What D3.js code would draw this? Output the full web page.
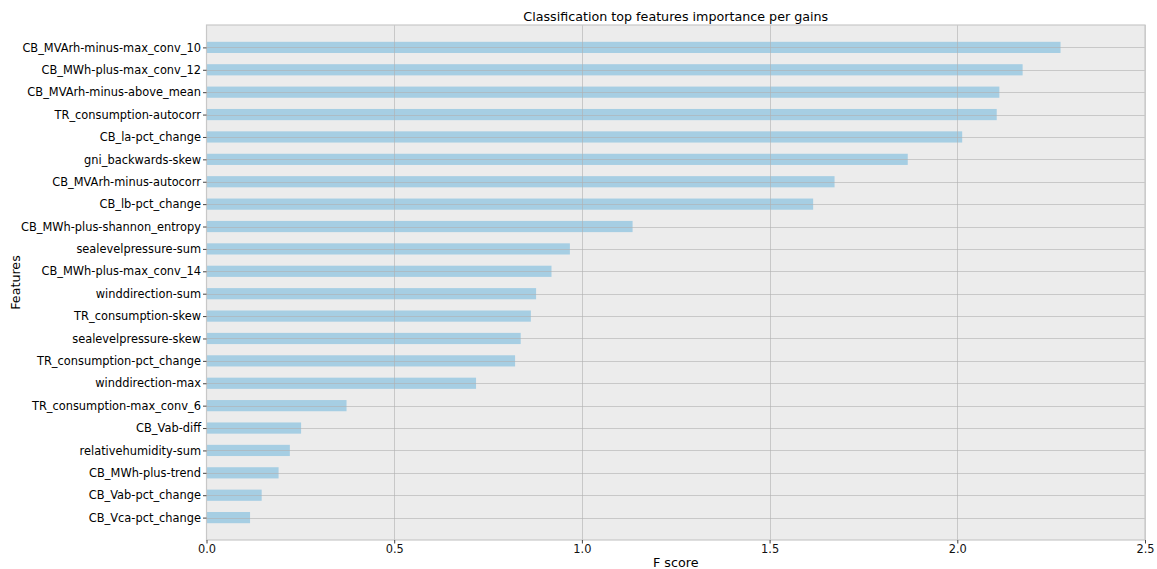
<!DOCTYPE html>
<html>
<head>
<meta charset="utf-8">
<script src="https://cdn.jsdelivr.net/npm/d3@7"></script>
<style>
  html, body { margin: 0; padding: 0; background: #fff; }
  svg { display: block; font-family: "DejaVu Sans", sans-serif; }
</style>
</head>
<body>
<svg id="chart" width="1157" height="569"></svg>
<script>
// Feature names, top to bottom
const features = [
  "CB_MVArh-minus-max_conv_10",
  "CB_MWh-plus-max_conv_12",
  "CB_MVArh-minus-above_mean",
  "TR_consumption-autocorr",
  "CB_la-pct_change",
  "gni_backwards-skew",
  "CB_MVArh-minus-autocorr",
  "CB_lb-pct_change",
  "CB_MWh-plus-shannon_entropy",
  "sealevelpressure-sum",
  "CB_MWh-plus-max_conv_14",
  "winddirection-sum",
  "TR_consumption-skew",
  "sealevelpressure-skew",
  "TR_consumption-pct_change",
  "winddirection-max",
  "TR_consumption-max_conv_6",
  "CB_Vab-diff",
  "relativehumidity-sum",
  "CB_MWh-plus-trend",
  "CB_Vab-pct_change",
  "CB_Vca-pct_change"
];

// Gain-based importance per feature
const gains = [
  2.275, 2.174, 2.112, 2.105, 2.013, 1.868, 1.673, 1.616,
  1.135, 0.968, 0.919, 0.878, 0.864, 0.837, 0.822, 0.718,
  0.373, 0.252, 0.222, 0.192, 0.147, 0.116
];

const xTicks = [0.0, 0.5, 1.0, 1.5, 2.0, 2.5];

const svg = d3.select("#chart");
const plotLeft = 206.5, plotRight = 1145, plotTop = 25, plotBottom = 540;
const tickFont = "11.4px";
const labelFont = "12.7px";

const x = d3.scaleLinear().domain([0, 2.5]).range([plotLeft, plotRight]);
// row index -> vertical position, one empty slot above and below
const y = d3.scaleLinear().domain([-1, features.length]).range([plotTop, plotBottom]);
const rowStep = y(1) - y(0);
const barH = rowStep * 0.5;

// plot background
svg.append("rect")
  .attr("x", plotLeft).attr("y", plotTop)
  .attr("width", plotRight - plotLeft).attr("height", plotBottom - plotTop)
  .attr("fill", "#ececec");

// bars
svg.append("g").selectAll("rect")
  .data(gains)
  .join("rect")
  .attr("x", x(0))
  .attr("y", (d, i) => y(i) - barH / 2)
  .attr("width", d => x(d) - x(0))
  .attr("height", barH)
  .attr("fill", "#a6cee3");

// grid lines drawn over the bars
const grid = svg.append("g")
  .attr("stroke", "#b0b0b0")
  .attr("stroke-opacity", 0.6)
  .attr("stroke-width", 1);
grid.selectAll("line.v")
  .data(xTicks.slice(1))
  .join("line")
  .attr("class", "v")
  .attr("x1", d => Math.round(x(d)) + 0.5).attr("x2", d => Math.round(x(d)) + 0.5)
  .attr("y1", plotTop).attr("y2", plotBottom);
grid.selectAll("line.h")
  .data(features)
  .join("line")
  .attr("class", "h")
  .attr("x1", plotLeft).attr("x2", plotRight)
  .attr("y1", (d, i) => Math.round(y(i)) + 0.5)
  .attr("y2", (d, i) => Math.round(y(i)) + 0.5);

// frame
svg.append("rect")
  .attr("x", plotLeft).attr("y", plotTop)
  .attr("width", plotRight - plotLeft).attr("height", plotBottom - plotTop)
  .attr("fill", "none")
  .attr("stroke", "#c8c8c8")
  .attr("stroke-width", 1.2);

// x axis
const xAxis = d3.axisBottom(x)
  .tickValues(xTicks)
  .tickFormat(d3.format(".1f"))
  .tickSize(3.5)
  .tickPadding(1.5);
const gx = svg.append("g")
  .attr("transform", `translate(0,${plotBottom})`)
  .call(xAxis);
gx.select(".domain").remove();
gx.selectAll(".tick line").attr("stroke", "#444");
gx.selectAll(".tick text")
  .attr("font-size", tickFont)
  .attr("fill", "#111")
  .attr("font-family", "DejaVu Sans, sans-serif");

// y axis
const yBand = d3.scalePoint().domain(features)
  .range([y(0), y(features.length - 1)]);
const yAxis = d3.axisLeft(yBand).tickSize(3.5).tickPadding(2);
const gy = svg.append("g")
  .attr("transform", `translate(${plotLeft},0)`)
  .call(yAxis);
gy.select(".domain").remove();
gy.selectAll(".tick line").attr("stroke", "#444");
gy.selectAll(".tick text")
  .attr("font-size", tickFont)
  .attr("fill", "#000")
  .attr("font-family", "DejaVu Sans, sans-serif");

// title and axis labels
svg.append("text")
  .attr("x", (plotLeft + plotRight) / 2).attr("y", 21)
  .attr("text-anchor", "middle")
  .attr("font-size", labelFont)
  .attr("fill", "#000")
  .text("Classification top features importance per gains");

svg.append("text")
  .attr("x", (plotLeft + plotRight) / 2).attr("y", 567)
  .attr("text-anchor", "middle")
  .attr("font-size", labelFont)
  .attr("fill", "#000")
  .text("F score");

svg.append("text")
  .attr("transform", `translate(19.5,${(plotTop + plotBottom) / 2}) rotate(-90)`)
  .attr("text-anchor", "middle")
  .attr("font-size", labelFont)
  .attr("fill", "#000")
  .text("Features");
</script>
</body>
</html>
